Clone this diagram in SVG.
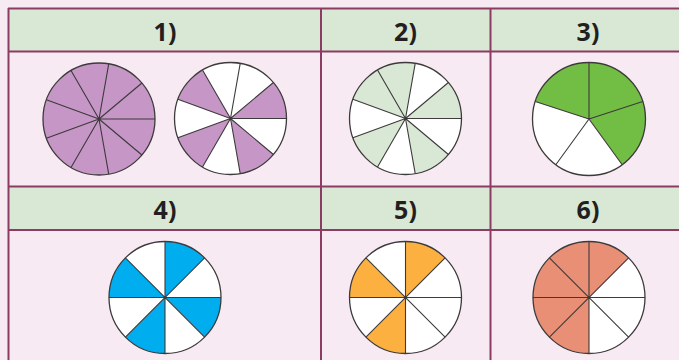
<svg xmlns="http://www.w3.org/2000/svg" width="679" height="360" viewBox="0 0 679 360">
<style>
.hdr{fill:#d9e8d4}
.grid{stroke:#8c3b63;stroke-width:2;fill:none}
.lbl{font-family:"Noto Sans","Open Sans",sans-serif;font-weight:bold;font-size:25px;fill:#231f20;text-anchor:middle}
.base{fill:#ffffff}
.rim{fill:none;stroke:#3d3a3b;stroke-width:1.3}
.sp{stroke:#3d3a3b;stroke-width:1.1;fill:none}
.pur{fill:#c596c6}
.lg{fill:#d9e8d4}
.gr{fill:#72be44}
.bl{fill:#00aeef}
.or{fill:#fbb040}
.co{fill:#e98f76}
</style>
<rect x="0" y="0" width="679" height="360" fill="#f7eaf2"/>
<g id="table">
<rect class="hdr" x="8" y="8" width="671" height="43.5"/>
<rect class="hdr" x="8" y="186.5" width="671" height="43.5"/>
<path class="grid" d="M8,8.5H679M8,51.5H679M8,186.5H679M8,230H679M8.5,8V360M321,8V360M490.5,8V360"/>
</g>
<g id="labels">
<text class="lbl" x="165" y="41">1)</text>
<text class="lbl" x="405.5" y="41">2)</text>
<text class="lbl" x="588" y="41">3)</text>
<text class="lbl" x="165" y="219">4)</text>
<text class="lbl" x="405.5" y="219">5)</text>
<text class="lbl" x="588" y="219">6)</text>
</g>
<defs>
<path id="sp9" class="sp" d="M0,0H56M0,0L42.9,-36M0,0L9.72,-55.15M0,0L-28,-48.5M0,0L-52.62,-19.15M0,0L-52.62,19.15M0,0L-28,48.5M0,0L9.72,55.15M0,0L42.9,36"/>
<path id="sp8" class="sp" d="M-56,0H56M0,-56V56M-39.6,-39.6L39.6,39.6M-39.6,39.6L39.6,-39.6"/>
</defs>
<g id="circle1a" transform="translate(99,119)">
<circle class="pur" r="56"/>
<use href="#sp9"/>
<circle class="rim" r="56"/>
</g>
<g id="circle1b" transform="translate(230.5,118.5)">
<circle class="base" r="56"/>
<path class="pur" d="M0,0L56,0A56,56 0 0 0 42.9,-36Z M0,0L-28,-48.5A56,56 0 0 0 -52.62,-19.15Z M0,0L-52.62,19.15A56,56 0 0 0 -28,48.5Z M0,0L9.72,55.15A56,56 0 0 0 42.9,36Z"/>
<use href="#sp9"/>
<circle class="rim" r="56"/>
</g>
<g id="circle2" transform="translate(405.5,118.5)">
<circle class="base" r="56"/>
<path class="lg" d="M0,0L56,0A56,56 0 0 0 42.9,-36Z M0,0L9.72,-55.15A56,56 0 0 0 -52.62,-19.15Z M0,0L-52.62,19.15A56,56 0 0 0 -28,48.5Z M0,0L9.72,55.15A56,56 0 0 0 42.9,36Z"/>
<use href="#sp9"/>
<circle class="rim" r="56"/>
</g>
<g id="circle3" transform="translate(589,119)">
<circle class="base" r="56.5"/>
<path class="gr" d="M0,0L33.21,45.71A56.5,56.5 0 1 0 -53.74,-17.46Z"/>
<path class="sp" d="M0,0V-56.5M0,0L53.74,-17.46M0,0L33.21,45.71M0,0L-33.21,45.71M0,0L-53.74,-17.46"/>
<circle class="rim" r="56.5"/>
</g>
<g id="circle4" transform="translate(165,297.5)">
<circle class="base" r="56"/>
<path class="bl" d="M0,0L39.6,-39.6A56,56 0 0 0 0,-56Z M0,0L-39.6,-39.6A56,56 0 0 0 -56,0Z M0,0L-39.6,39.6A56,56 0 0 0 0,56Z M0,0L39.6,39.6A56,56 0 0 0 56,0Z"/>
<use href="#sp8"/>
<circle class="rim" r="56"/>
</g>
<g id="circle5" transform="translate(405.5,297.5)">
<circle class="base" r="56"/>
<path class="or" d="M0,0L39.6,-39.6A56,56 0 0 0 0,-56Z M0,0L-39.6,-39.6A56,56 0 0 0 -56,0Z M0,0L-39.6,39.6A56,56 0 0 0 0,56Z"/>
<use href="#sp8"/>
<circle class="rim" r="56"/>
</g>
<g id="circle6" transform="translate(589,297.5)">
<circle class="base" r="56"/>
<path class="co" d="M0,0L39.6,-39.6A56,56 0 1 0 0,56Z"/>
<use href="#sp8"/>
<circle class="rim" r="56"/>
</g>
</svg>
